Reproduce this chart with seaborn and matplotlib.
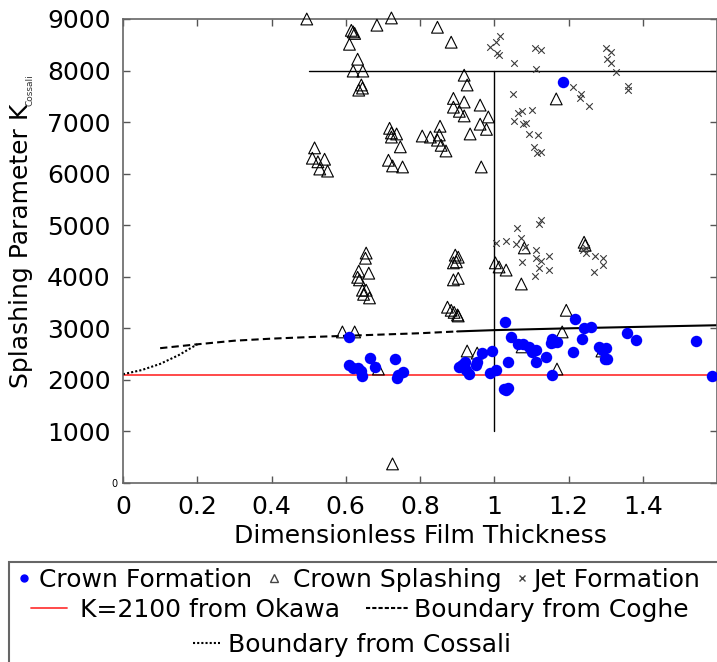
import matplotlib
matplotlib.use("Agg")
import matplotlib.pyplot as plt
import seaborn as sns
from matplotlib.lines import Line2D
from matplotlib.patches import Rectangle

# Crown Formation (blue dots)
cf_x = [0.61, 0.61, 0.62, 0.632, 0.642, 0.645, 0.664, 0.68, 0.734, 0.755, 0.742, 0.737,
        0.906, 0.914, 0.922, 0.925, 0.933, 0.952, 0.954, 0.968, 0.995, 0.989, 1.005,
        1.03, 1.046, 1.032, 1.038, 1.025, 1.065, 1.078, 1.094, 1.102, 1.113, 1.038, 1.113,
        1.14, 1.156, 1.161, 1.169, 1.153, 1.218, 1.212, 1.237, 1.242, 1.261, 1.282, 1.29,
        1.301, 1.298, 1.304, 1.358, 1.382, 1.543, 1.156, 1.586, 1.185]
cf_y = [2830, 2290, 2230, 2230, 2170, 2070, 2420, 2250, 2400, 2150, 2090, 2030,
        2250, 2290, 2350, 2190, 2110, 2290, 2350, 2520, 2560, 2130, 2190,
        3120, 2830, 1800, 1840, 1820, 2700, 2700, 2640, 2540, 2580, 2350, 2350,
        2440, 2790, 2730, 2730, 2710, 3180, 2540, 2790, 3000, 3020, 2640, 2580,
        2620, 2400, 2400, 2910, 2770, 2750, 2090, 2070, 7780]

# Crown Splashing (open triangles)
cs_x = [0.495, 0.615, 0.62, 0.624, 0.61, 0.632, 0.62, 0.646, 0.642, 0.635, 0.645,
        0.684, 0.723, 0.847, 0.884, 0.919, 0.927,
        0.89, 0.919, 0.89, 0.906, 0.919, 0.962, 0.984, 0.962, 0.979, 0.935,
        0.854, 0.852, 0.806, 0.828, 0.847, 0.857, 0.87, 0.965,
        0.718, 0.723, 0.737, 0.723, 0.747, 0.715, 0.726, 0.753,
        0.516, 0.51, 0.543, 0.525, 0.53, 0.551, 1.167,
        0.655, 0.653, 0.635, 0.662, 0.632, 0.637, 0.645, 0.655, 0.648, 0.664,
        0.895, 0.903, 0.89, 0.898, 0.903, 0.89,
        0.874, 0.884, 0.892, 0.901, 0.903,
        1.081, 1.003, 1.013, 1.032, 1.073, 1.242, 1.245, 1.194,
        0.591, 0.624, 0.927, 0.954, 0.688, 1.183, 1.169, 1.075, 1.29, 0.726]
cs_y = [9000, 8780, 8750, 8720, 8510, 8220, 7990, 7990, 7720, 7620, 7660,
        8880, 9020, 8840, 8550, 7910, 7720,
        7460, 7390, 7290, 7210, 7120, 7330, 7100, 6960, 6860, 6770,
        6920, 6750, 6730, 6710, 6650, 6550, 6440, 6130,
        6880, 6790, 6770, 6710, 6520, 6260, 6150, 6130,
        6500, 6300, 6280, 6230, 6090, 6050, 7450,
        4460, 4360, 4110, 4070, 3990, 3940, 3740, 3740, 3660, 3590,
        4420, 4380, 4270, 4290, 3970, 3940,
        3410, 3350, 3310, 3260, 3240,
        4560, 4270, 4190, 4130, 3860, 4670, 4610, 3350,
        2930, 2930, 2560, 2520, 2210, 2930, 2210, 2640, 2560, 370]

# Jet Formation (crosses)
jf_x = [1.016, 1.005, 0.989, 1.008, 1.013, 1.054, 1.113, 1.11, 1.126, 1.301, 1.315,
        1.304, 1.315, 1.328, 1.36, 1.36,
        1.051, 1.212, 1.234, 1.231, 1.255,
        1.065, 1.075, 1.102, 1.054, 1.078, 1.086, 1.094, 1.118, 1.108, 1.116, 1.126,
        1.126, 1.121, 1.062, 1.073, 1.005, 1.032, 1.059, 1.083, 1.113, 1.148, 1.113,
        1.126, 1.075, 1.121, 1.148, 1.11, 1.239, 1.247, 1.247, 1.272, 1.293, 1.293, 1.269]
jf_y = [8670, 8550, 8450, 8340, 8300, 8140, 8030, 8430, 8400, 8430, 8360,
        8220, 8140, 7970, 7700, 7620,
        7540, 7680, 7540, 7470, 7310,
        7170, 7210, 7230, 7020, 6960, 6980, 6770, 6750, 6520, 6400, 6420,
        5100, 5020, 4940, 4750, 4650, 4690, 4630, 4580, 4520, 4400, 4360,
        4300, 4290, 4170, 4130, 4010, 4520, 4460, 4560, 4400, 4360, 4230, 4090]

# boundary curves
okawa_x = [0, 1.6]
okawa_y = [2100, 2100]
coghe_x = [0.1, 0.2, 0.3, 0.4, 0.5, 0.6, 0.7, 0.8, 0.9, 1.0, 1.2, 1.4, 1.6]
coghe_y = [2615, 2690, 2760, 2800, 2830, 2855, 2880, 2905, 2940, 2965, 3000, 3030, 3060]
cossali_x = [0, 0.05, 0.1, 0.15, 0.2]
cossali_y = [2110, 2190, 2310, 2480, 2690]

# region separators
vline_x = [1.0, 1.0]
vline_y = [1000, 8000]
hline_x = [0.5, 1.6]
hline_y = [8000, 8000]

xticks = [0, 0.2, 0.4, 0.6, 0.8, 1.0, 1.2, 1.4]
xticklabels = ['0', '0.2', '0.4', '0.6', '0.8', '1', '1.2', '1.4']
yticks = [0, 1000, 2000, 3000, 4000, 5000, 6000, 7000, 8000, 9000]

sns.set_style("ticks")
plt.rcParams['font.family'] = ['DejaVu Sans']
plt.rcParams['text.color'] = 'black'
plt.rcParams['axes.labelcolor'] = 'black'
fs = 18
W, H = 717, 662

fig = plt.figure(figsize=(7.17, 6.62), dpi=100)
ax = fig.add_axes([123/W, 1 - 483/H, 1 - 123/W, 464/H])

red = '#ff3b3b'
ax.plot(vline_x, vline_y, color='black', lw=1)
ax.plot(hline_x, hline_y, color='black', lw=1)
ax.plot(okawa_x, okawa_y, color=red, lw=1.3)
ax.plot(coghe_x[:9], coghe_y[:9], color='black', lw=1.5, linestyle=(0, (3.5, 2)))
ax.plot(coghe_x[8:], coghe_y[8:], color='black', lw=1.5)
ax.plot(cossali_x, cossali_y, color='black', lw=1.5, linestyle=(0, (1, 1)))

sns.scatterplot(x=cs_x, y=cs_y, ax=ax, marker='^', s=72, facecolor='none',
                edgecolor='black', linewidth=0.8, legend=False, clip_on=False, zorder=3)
sns.scatterplot(x=jf_x, y=jf_y, ax=ax, marker='x', s=22, color='#3a3a3a',
                linewidth=0.8, legend=False, zorder=3)
sns.scatterplot(x=cf_x, y=cf_y, ax=ax, marker='o', s=68, color='blue',
                edgecolor='blue', linewidth=0, legend=False, zorder=4)

ax.set_xlim(0, 1.6)
ax.set_ylim(0, 9000)
ax.set_xticks(xticks)
ax.set_xticklabels(xticklabels)
ax.set_yticks(yticks)
ax.set_yticklabels([str(v) for v in yticks])
ax.tick_params(direction='in', length=5, width=1, colors='#555555', labelcolor='black',
               labelsize=fs, top=True, right=True, pad=9)
ax.get_yticklabels()[0].set_fontsize(7)
ax.yaxis.get_major_ticks()[0].set_pad(4)
for sp in ax.spines.values():
    sp.set_color('#666666')
    sp.set_linewidth(1.2)

ax.set_xlabel('Dimensionless Film Thickness', fontsize=fs, labelpad=3)
fig.text(21/W, 1 - 246/H, 'Splashing Parameter K', rotation=90, fontsize=fs,
         ha='center', va='center')
fig.text(30/W, 1 - 90/H, 'Cossali', rotation=90, fontsize=6.5, color='#333333',
         ha='center', va='center')

# legend box and entries
fig.patches.append(Rectangle((9/W, -0.02), 1.0, 0.02 + 1 - 562/H, transform=fig.transFigure,
                             fill=False, edgecolor='#666666', lw=1.5))
em = fs * 100 / 72
leg_handles = [Line2D([], [], marker='o', color='blue', ls='none', markersize=5),
               Line2D([], [], marker='^', color='#444444', markerfacecolor='none',
                      ls='none', markersize=6),
               Line2D([], [], marker='x', color='#444444', ls='none', markersize=4),
               Line2D([], [], color=red, lw=1.3),
               Line2D([], [], color='black', lw=1.5, ls=(0, (2, 1))),
               Line2D([], [], color='black', lw=1.5, ls=(0, (1, 1)))]
leg_labels = ['Crown Formation', 'Crown Splashing', 'Jet Formation',
              'K=2100 from Okawa', 'Boundary from Coghe', 'Boundary from Cossali']
leg_hx = [17, 267, 515, 31, 366, 193]
leg_hw = [14, 14, 14, 36, 43, 27]
leg_tx = [39, 293, 533, 80, 414, 228]
leg_y = [580, 580, 580, 610, 610, 645]
for h, lab, hx, hw, tx, yy in zip(leg_handles, leg_labels, leg_hx, leg_hw, leg_tx, leg_y):
    fig.legend([h], [lab], loc='center left', bbox_to_anchor=(hx/W, 1 - yy/H),
               frameon=False, fontsize=fs, handlelength=hw/em,
               handletextpad=(tx - hx - hw)/em, borderpad=0, borderaxespad=0)

fig.savefig('out.png', dpi=100)
